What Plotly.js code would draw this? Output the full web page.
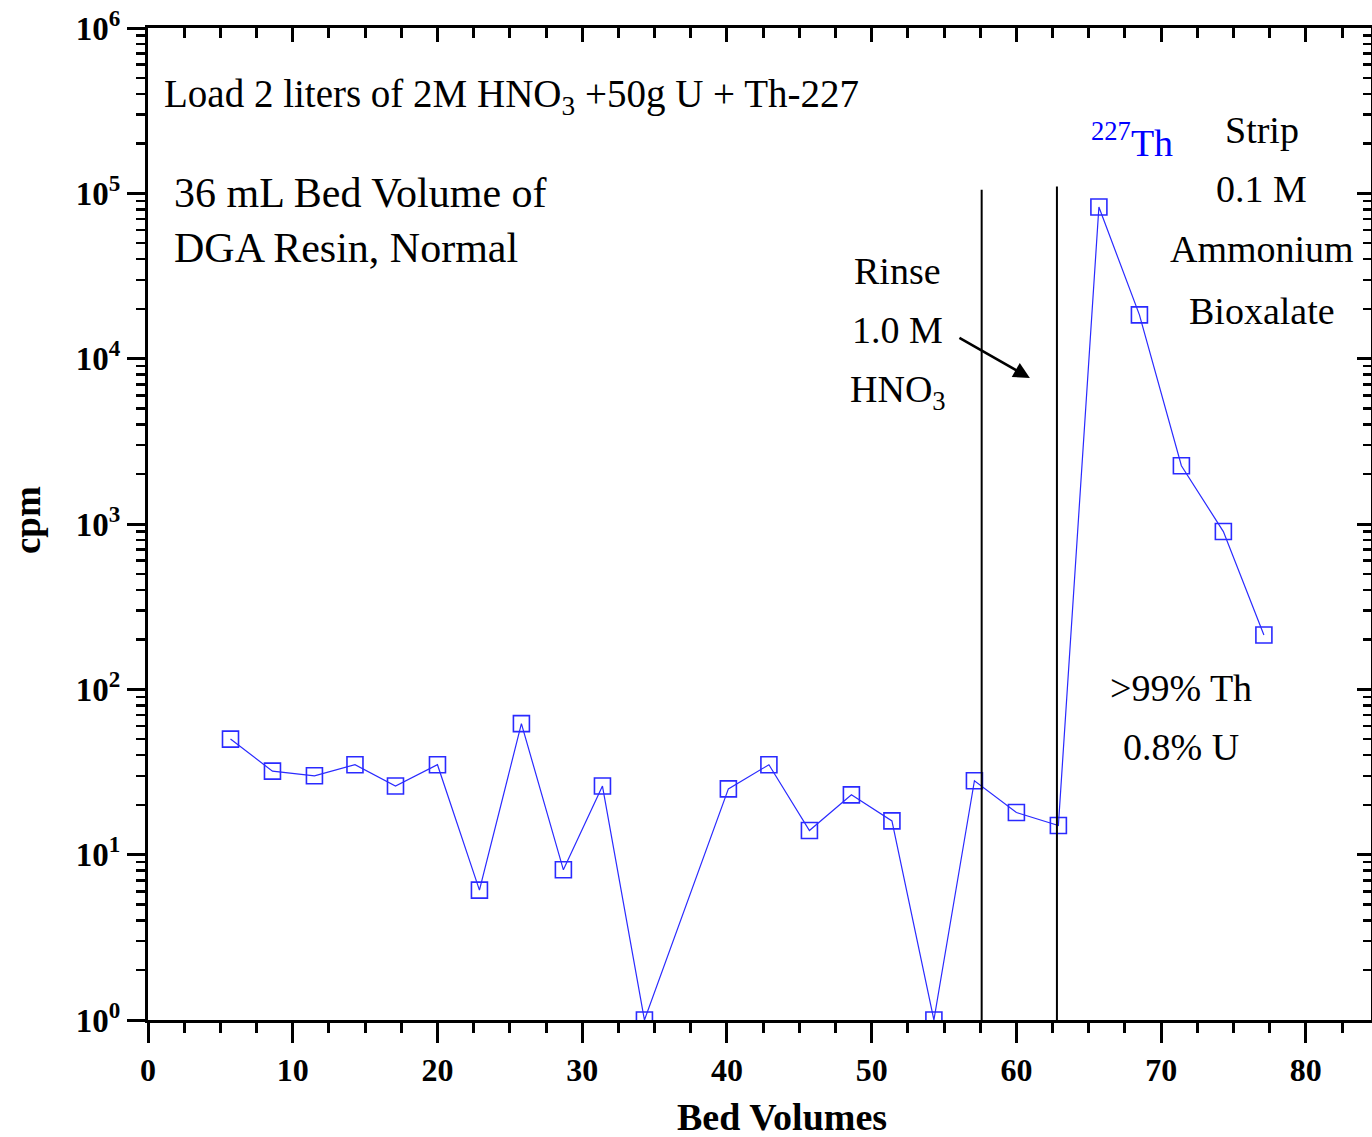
<!DOCTYPE html>
<html>
<head>
<meta charset="utf-8">
<script src="https://cdn.plot.ly/plotly-3.0.1.min.js"></script>
<style>html,body{margin:0;padding:0;background:#fff;}#chart{width:1372px;height:1137px;}</style>
</head>
<body>
<div id="chart"></div>
<script>
// Data
const bedVolumes = [5.7, 8.6, 11.5, 14.3, 17.1, 20.0, 22.9, 25.8, 28.7, 31.4, 34.3, 40.1, 42.9, 45.7, 48.6, 51.4, 54.3, 57.1, 60.0, 62.9, 65.7, 68.5, 71.4, 74.3, 77.1];
const cpm = [50, 32, 30, 35, 26, 35, 6.1, 62, 8.1, 26, 1, 25, 35, 14, 23, 16, 1, 28, 18, 15, 82600, 18400, 2250, 900, 213];
const dividerX = [57.6, 62.8];
const dividerTop = [1.05e5, 1.1e5];
const dividerBottom = [1, 1];
const yTickVals = [1, 10, 100, 1000, 10000, 100000, 1000000];
const yTickText = ['10<sup>0</sup>', '10<sup>1</sup>', '10<sup>2</sup>', '10<sup>3</sup>', '10<sup>4</sup>', '10<sup>5</sup>', '10<sup>6</sup>'];
const xTickVals = [0, 10, 20, 30, 40, 50, 60, 70, 80];
const rinseLines = ['Rinse', '1.0 M', 'HNO<sub>3</sub>'];
const stripLines = ['Strip', '0.1 M', 'Ammonium', 'Bioxalate'];
const recoveryLines = ['>99% Th', '0.8% U'];

const serif = 'Liberation Serif, Times New Roman, serif';
const blue = '#2a2aff';

const traces = [
  {
    x: bedVolumes, y: cpm, type: 'scatter', mode: 'lines+markers',
    line: {color: blue, width: 1.2},
    marker: {symbol: 'square-open', size: 16, color: blue, line: {width: 1.6, color: blue}},
    hoverinfo: 'x+y', showlegend: false
  }
];
dividerX.forEach((xv, i) => {
  traces.push({
    x: [xv, xv], y: [dividerBottom[i], dividerTop[i]], type: 'scatter', mode: 'lines',
    line: {color: '#000', width: 2}, hoverinfo: 'skip', showlegend: false
  });
});
traces.push({x: [], y: [], xaxis: 'x2', yaxis: 'y2', type: 'scatter', showlegend: false});

const txt = (text, x, y, size, color, anchor) => ({
  x: x, y: y, xref: 'x', yref: 'y', xanchor: anchor || 'center', yanchor: 'middle',
  showarrow: false, text: text, font: {family: serif, size: size, color: color || '#000'}
});

const rinseY = [4.53, 4.173, 3.80];
const stripY = [5.383, 5.026, 4.663, 4.288];
const recoveryY = [2.008, 1.651];

const annotations = [
  txt('Load 2 liters of 2M HNO<sub>3</sub> +50g U + Th-227', 1.0, 5.583, 39, '#000', 'left'),
  txt('36 mL Bed Volume of', 1.65, 5.0, 42, '#000', 'left'),
  txt('DGA Resin, Normal', 1.65, 4.67, 42, '#000', 'left'),
  txt('<sup>227</sup>Th', 68.0, 5.32, 38, '#0000ff'),
  {x: 60.93, y: 3.883, ax: 55.96, ay: 4.131, xref: 'x', yref: 'y', axref: 'x', ayref: 'y',
   showarrow: true, arrowhead: 2, arrowsize: 1.3, arrowwidth: 2.5, arrowcolor: '#000', text: ''},
  {x: 0.5184, y: -0.0975, xref: 'paper', yref: 'paper', xanchor: 'center', yanchor: 'middle', showarrow: false,
   text: '<b>Bed Volumes</b>', font: {family: serif, size: 38, color: '#000'}},
  {x: -0.0989, y: 0.504, xref: 'paper', yref: 'paper', xanchor: 'center', yanchor: 'middle', showarrow: false,
   textangle: -90, text: '<b>cpm</b>', font: {family: serif, size: 37, color: '#000'}}
];
rinseLines.forEach((t, i) => annotations.push(txt(t, 51.8, rinseY[i], 38)));
stripLines.forEach((t, i) => annotations.push(txt(t, 76.95, stripY[i], 38)));
recoveryLines.forEach((t, i) => annotations.push(txt(t, 71.4, recoveryY[i], 38)));

const layout = {
  width: 1372, height: 1137,
  margin: {l: 148, r: 1, t: 28, b: 117},
  paper_bgcolor: '#fff', plot_bgcolor: '#fff',
  font: {family: serif, color: '#000'},
  showlegend: false,
  xaxis: {
    range: [0, 84.5], tickvals: xTickVals, ticktext: xTickVals.map(String),
    ticks: 'outside', ticklen: 20, tickwidth: 3, tickcolor: '#000',
    minor: {dtick: 2.5, tick0: 0, ticks: 'outside', ticklen: 10, tickwidth: 3, tickcolor: '#000'},
    showline: true, linewidth: 3, linecolor: '#000', showgrid: false, zeroline: false,
    tickfont: {family: serif, size: 32, color: '#000', weight: 'bold'}
  },
  yaxis: {
    type: 'log', range: [0, 6], tickvals: yTickVals, ticktext: yTickText,
    ticks: 'outside', ticklen: 18, tickwidth: 3, tickcolor: '#000',
    minor: {dtick: 'D1', ticks: 'outside', ticklen: 9, tickwidth: 2.5, tickcolor: '#000'},
    showline: true, linewidth: 3, linecolor: '#000', showgrid: false, zeroline: false,
    tickfont: {family: serif, size: 33, color: '#000', weight: 'bold'}
  },
  xaxis2: {
    overlaying: 'x', side: 'top', range: [0, 84.5], tickvals: xTickVals,
    ticks: 'inside', ticklen: 14, tickwidth: 3, tickcolor: '#000',
    minor: {dtick: 2.5, tick0: 0, ticks: 'inside', ticklen: 10, tickwidth: 3, tickcolor: '#000'},
    showticklabels: false, showline: true, linewidth: 3, linecolor: '#000', showgrid: false, zeroline: false
  },
  yaxis2: {
    overlaying: 'y', side: 'right', type: 'log', range: [0, 6], tickvals: yTickVals,
    ticks: 'inside', ticklen: 14, tickwidth: 3, tickcolor: '#000',
    minor: {dtick: 'D1', ticks: 'inside', ticklen: 8, tickwidth: 2.5, tickcolor: '#000'},
    showticklabels: false, showline: true, linewidth: 3, linecolor: '#000', showgrid: false, zeroline: false
  },
  annotations: annotations
};

Plotly.newPlot('chart', traces, layout, {displayModeBar: false, staticPlot: true});
</script>
</body>
</html>
